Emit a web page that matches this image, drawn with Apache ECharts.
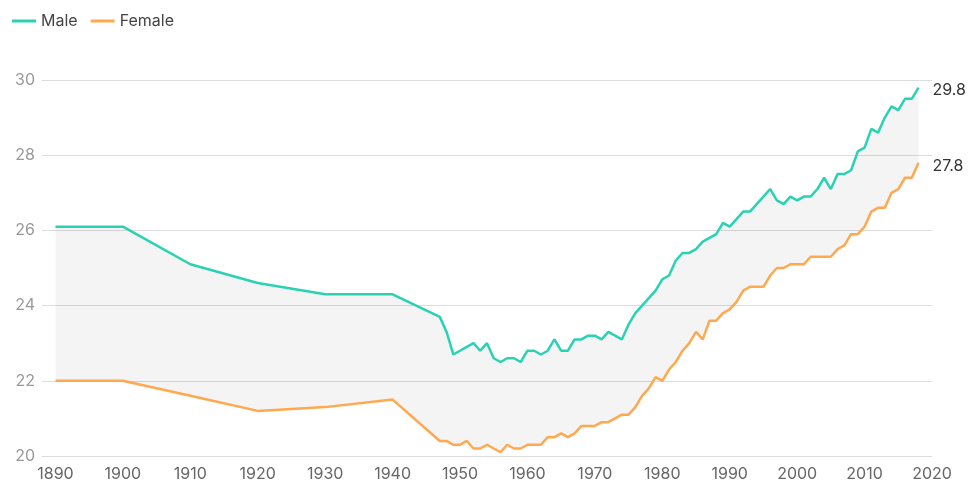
<!DOCTYPE html>
<html>
<head>
<meta charset="utf-8">
<script src="https://cdn.jsdelivr.net/npm/echarts@6/dist/echarts.min.js"></script>
<style>
  html, body { margin: 0; padding: 0; background: #fff; }
  #chart { width: 978px; height: 504px; }
</style>
</head>
<body>
<div id="chart"></div>
<script>
const years = [1890, 1900, 1910, 1920, 1930, 1940,
  1947, 1948, 1949, 1950, 1951, 1952, 1953, 1954, 1955, 1956, 1957, 1958, 1959,
  1960, 1961, 1962, 1963, 1964, 1965, 1966, 1967, 1968, 1969,
  1970, 1971, 1972, 1973, 1974, 1975, 1976, 1977, 1978, 1979,
  1980, 1981, 1982, 1983, 1984, 1985, 1986, 1987, 1988, 1989,
  1990, 1991, 1992, 1993, 1994, 1995, 1996, 1997, 1998, 1999,
  2000, 2001, 2002, 2003, 2004, 2005, 2006, 2007, 2008, 2009,
  2010, 2011, 2012, 2013, 2014, 2015, 2016, 2017, 2018];

const male = [26.1, 26.1, 25.1, 24.6, 24.3, 24.3,
  23.7, 23.3, 22.7, 22.8, 22.9, 23.0, 22.8, 23.0, 22.6, 22.5, 22.6, 22.6, 22.5,
  22.8, 22.8, 22.7, 22.8, 23.1, 22.8, 22.8, 23.1, 23.1, 23.2,
  23.2, 23.1, 23.3, 23.2, 23.1, 23.5, 23.8, 24.0, 24.2, 24.4,
  24.7, 24.8, 25.2, 25.4, 25.4, 25.5, 25.7, 25.8, 25.9, 26.2,
  26.1, 26.3, 26.5, 26.5, 26.7, 26.9, 27.1, 26.8, 26.7, 26.9,
  26.8, 26.9, 26.9, 27.1, 27.4, 27.1, 27.5, 27.5, 27.6, 28.1,
  28.2, 28.7, 28.6, 29.0, 29.3, 29.2, 29.5, 29.5, 29.8];

const female = [22.0, 22.0, 21.6, 21.2, 21.3, 21.5,
  20.4, 20.4, 20.3, 20.3, 20.4, 20.2, 20.2, 20.3, 20.2, 20.1, 20.3, 20.2, 20.2,
  20.3, 20.3, 20.3, 20.5, 20.5, 20.6, 20.5, 20.6, 20.8, 20.8,
  20.8, 20.9, 20.9, 21.0, 21.1, 21.1, 21.3, 21.6, 21.8, 22.1,
  22.0, 22.3, 22.5, 22.8, 23.0, 23.3, 23.1, 23.6, 23.6, 23.8,
  23.9, 24.1, 24.4, 24.5, 24.5, 24.5, 24.8, 25.0, 25.0, 25.1,
  25.1, 25.1, 25.3, 25.3, 25.3, 25.3, 25.5, 25.6, 25.9, 25.9,
  26.1, 26.5, 26.6, 26.6, 27.0, 27.1, 27.4, 27.4, 27.8];

const xTickLabels = [1890, 1900, 1910, 1920, 1930, 1940, 1950, 1960, 1970, 1980, 1990, 2000, 2010, 2020];
const yTicks = [20, 22, 24, 26, 28, 30];

const maleColor = '#2ad2b4';
const femaleColor = '#ffa84d';
const FONT = 'Inter';

const malePts = years.map((y, i) => [y, male[i]]);
const femalePts = years.map((y, i) => [y, female[i]]);
const bandData = years.map((y, i) => [y, male[i], female[i]]);

function renderBand(params, api) {
  if (params.dataIndex !== 0) return null;
  const top = bandData.map(d => api.coord([d[0], d[1]]));
  const bottom = bandData.map(d => api.coord([d[0], d[2]])).reverse();
  return {
    type: 'polygon',
    shape: { points: top.concat(bottom) },
    style: { fill: 'rgba(0,0,0,0.045)' },
    silent: true
  };
}

const chart = echarts.init(document.getElementById('chart'));
chart.setOption({
  animation: false,
  textStyle: { fontFamily: FONT },
  legend: {
    data: ['Male', 'Female'],
    left: 7, top: 8,
    itemWidth: 24, itemHeight: 3, itemGap: 13,
    icon: 'rect',
    textStyle: { fontFamily: FONT, fontSize: 16, color: '#444' }
  },
  grid: { left: 42, right: 46, top: 80, bottom: 48, containLabel: false },
  xAxis: {
    type: 'value',
    min: 1888, max: 2020,
    axisLine: { show: false },
    axisTick: { show: false },
    splitLine: { show: false },
    axisLabel: {
      customValues: xTickLabels,
      formatter: v => String(v),
      margin: 10,
      fontSize: 16, color: '#666', fontFamily: FONT
    }
  },
  yAxis: {
    type: 'value',
    min: yTicks[0], max: yTicks[yTicks.length - 1], interval: 2,
    axisLine: { show: false },
    axisTick: { show: false },
    splitLine: { lineStyle: { color: '#dcdcdc', width: 1 } },
    axisLabel: { fontSize: 16, color: '#999', fontFamily: FONT, margin: 7 }
  },
  series: [
    {
      name: 'band', type: 'custom', data: bandData,
      renderItem: renderBand, silent: true, z: 1,
      encode: { x: 0, y: [1, 2] }
    },
    {
      name: 'Male', type: 'line', data: malePts,
      symbol: 'none', color: maleColor,
      lineStyle: { color: maleColor, width: 2.5 }, z: 3,
      endLabel: {
        show: true, distance: 14, offset: [0, 3], fontSize: 16, color: '#333', fontFamily: FONT,
        formatter: p => p.value[1].toFixed(1)
      }
    },
    {
      name: 'Female', type: 'line', data: femalePts,
      symbol: 'none', color: femaleColor,
      lineStyle: { color: femaleColor, width: 2.5 }, z: 3,
      endLabel: {
        show: true, distance: 14, offset: [0, 3], fontSize: 16, color: '#333', fontFamily: FONT,
        formatter: p => p.value[1].toFixed(1)
      }
    }
  ]
});
</script>
</body>
</html>
